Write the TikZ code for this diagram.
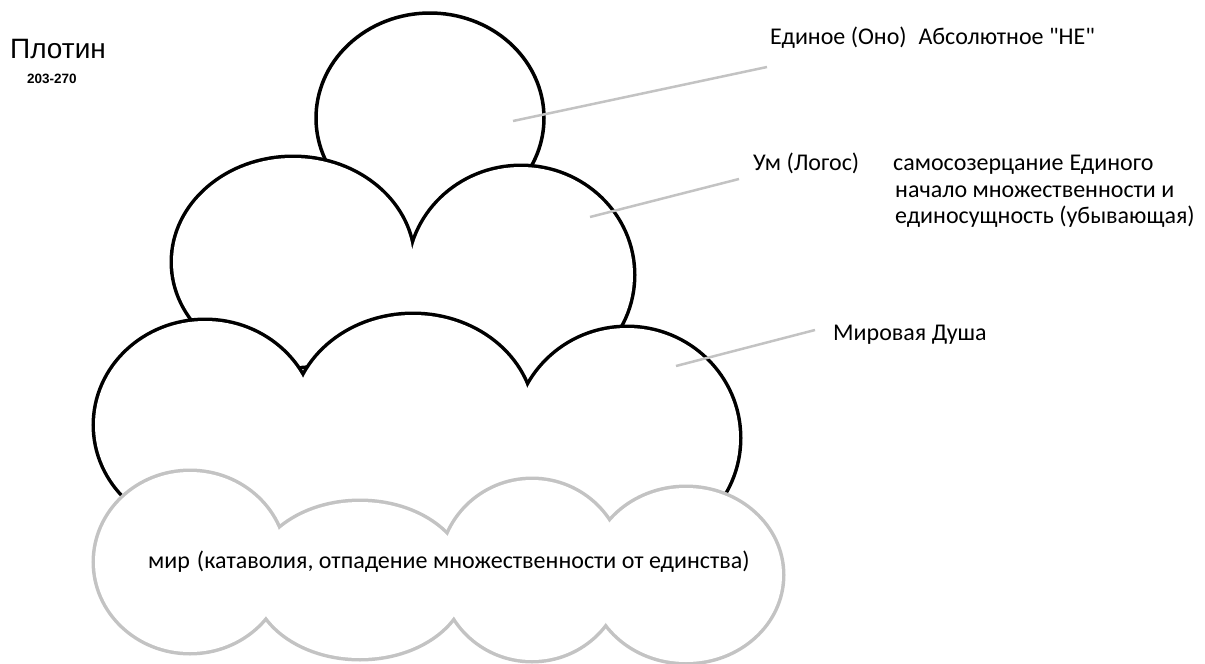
\documentclass[tikz,border=0pt]{standalone}
\usepackage{fontspec}
\setmainfont{Carlito}[Ligatures=TeXOff]
\newfontfamily\arialf{Liberation Sans}
\definecolor{lgray}{HTML}{C3C3C3}
\begin{document}
\begin{tikzpicture}[x=1pt,y=-1pt,
  blk/.style={draw=black,line width=7pt},
  gry/.style={draw=lgray,line width=7pt},
  conn/.style={draw=lgray,line width=2.5pt},
  lbl/.style={anchor=base west,inner sep=0pt,font=\fontsize{24}{28}\selectfont}]
\useasboundingbox (0,0) rectangle (1205,664);
% top lobe (Единое)
\draw[line width=3.5pt,shift={(430,118)}] (140:114 and 105) arc[start angle=140,end angle=400,x radius=114,y radius=105];
% middle layer (Ум)
\draw[blk] (293,262) ellipse[x radius=120,y radius=104];
\draw[blk] (521,275) ellipse[x radius=112,y radius=108];
\fill[white] (293,262) ellipse[x radius=120,y radius=104];
\fill[white] (521,275) ellipse[x radius=112,y radius=108];
\fill[white] (200,265) rectangle (612,335);
% lower black layer (Мировая Душа)
\draw[blk] (205,425) ellipse[x radius=110,y radius=104];
\draw[blk] (413,420) ellipse[x radius=120,y radius=105];
\draw[blk] (627,438) ellipse[x radius=112,y radius=110];
\fill[white] (205,425) ellipse[x radius=110,y radius=104];
\fill[white] (413,420) ellipse[x radius=120,y radius=105];
\fill[white] (627,438) ellipse[x radius=112,y radius=110];
\fill[white] (140,390) rectangle (712,560);
% gray layer (мир)
\draw[gry] (190,562) ellipse[x radius=95,y radius=90];
\draw[gry] (360,580) ellipse[x radius=106,y radius=78];
\draw[gry] (532,570) ellipse[x radius=91,y radius=90];
\draw[gry] (686,575) ellipse[x radius=96,y radius=87];
\fill[white] (190,562) ellipse[x radius=95,y radius=90];
\fill[white] (360,580) ellipse[x radius=106,y radius=78];
\fill[white] (532,570) ellipse[x radius=91,y radius=90];
\fill[white] (686,575) ellipse[x radius=96,y radius=87];
% texts
\node[anchor=base west,inner sep=0pt,font=\arialf\fontsize{28}{32}\selectfont] (title) at (10,58) {Плотин};
\node[anchor=base west,inner sep=0pt,font=\arialf\bfseries\fontsize{13.5}{16}\selectfont] (dates) at (27,83) {203-270};
\node[lbl] (l1) at (770,44) {Единое (Оно)\hspace{12pt}Абсолютное "НЕ"};
\node[lbl] (l2) at (753,170) {Ум (Логос)};
\node[lbl] (l2b) at (893,170) {самосозерцание\hspace{6pt}Единого};
\node[lbl] (l2c) at (895,197) {начало множественности и};
\node[lbl] (l2d) at (895,223) {единосущность (убывающая)};
\node[lbl] (l3) at (833,340) {Мировая Душа};
\node[lbl] (l4) at (148,568) {мир\hspace{7pt}(катаволия, отпадение множественности от единства)};
% connectors
\coordinate (s1) at (513,121); \coordinate (e1) at (767,67);
\coordinate (s2) at (590,217); \coordinate (e2) at (739,179);
\coordinate (s3) at (676,366); \coordinate (e3) at (815,330);
\draw[conn] (s1) -- (e1);
\draw[conn] (s2) -- (e2);
\draw[conn] (s3) -- (e3);
\end{tikzpicture}
\end{document}
